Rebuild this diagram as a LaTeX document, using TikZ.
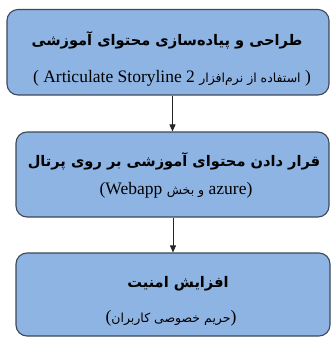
\documentclass[tikz,border=0pt]{standalone}
\usepackage{fontspec}
\setmainfont{Liberation Serif}
\newfontfamily\arabicfont[Script=Arabic]{DejaVu Sans}
\TeXXeTstate=1
\usetikzlibrary{arrows.meta}
\definecolor{boxfill}{RGB}{142,180,227}
\definecolor{boxline}{RGB}{62,72,88}
\tikzset{
  stepbox/.style={draw=boxline, line width=1.1pt, fill=boxfill, rounded corners=11pt, inner sep=0pt},
  titletext/.style={inner sep=0pt, font=\arabicfont\bfseries\fontsize{14.6}{18}\selectfont},
  subtext/.style={inner sep=0pt, font=\fontsize{17.5}{20}\selectfont},
  link/.style={draw=black!85, line width=0.8pt, -{Triangle[length=7pt,width=6pt]}}
}
\newcommand{\fa}[1]{{\arabicfont\mdseries\fontsize{12.5}{15}\selectfont\beginR #1\endR}}
\begin{document}
\begin{tikzpicture}[x=1pt,y=-1pt]
\useasboundingbox (0,0) rectangle (333,342);
\fill[white] (0,0) rectangle (333,342);
\node[stepbox, minimum width=322pt, minimum height=85.5pt] (b1) at (168,52.25) {};
\node[stepbox, minimum width=313pt, minimum height=85pt] (b2) at (172.5,174.5) {};
\node[stepbox, minimum width=314pt, minimum height=83pt] (b3) at (173,294.5) {};
\node[titletext] (t1) at (167,40) {\beginR طراحی و پیاده‌سازی محتوای آموزشی\endR};
\node[subtext] (s1) at (172,78) {( Articulate Storyline 2 \fa{استفاده از نرم‌افزار} )};
\node[titletext] (t2) at (174,161) {\beginR قرار دادن محتوای آموزشی بر روی پرتال\endR};
\node[subtext] (s2) at (176,190) {(Webapp \fa{و بخش} azure)};
\node[titletext] (t3) at (178,284) {\beginR افزایش امنیت\endR};
\node[subtext] (s3) at (171,318) {(\fa{حریم خصوصی کاربران})};
\draw[link] (b2.north |- b1.south) -- (b2.north);
\draw[link] (b3.north |- b2.south) -- (b3.north);
\end{tikzpicture}
\end{document}
